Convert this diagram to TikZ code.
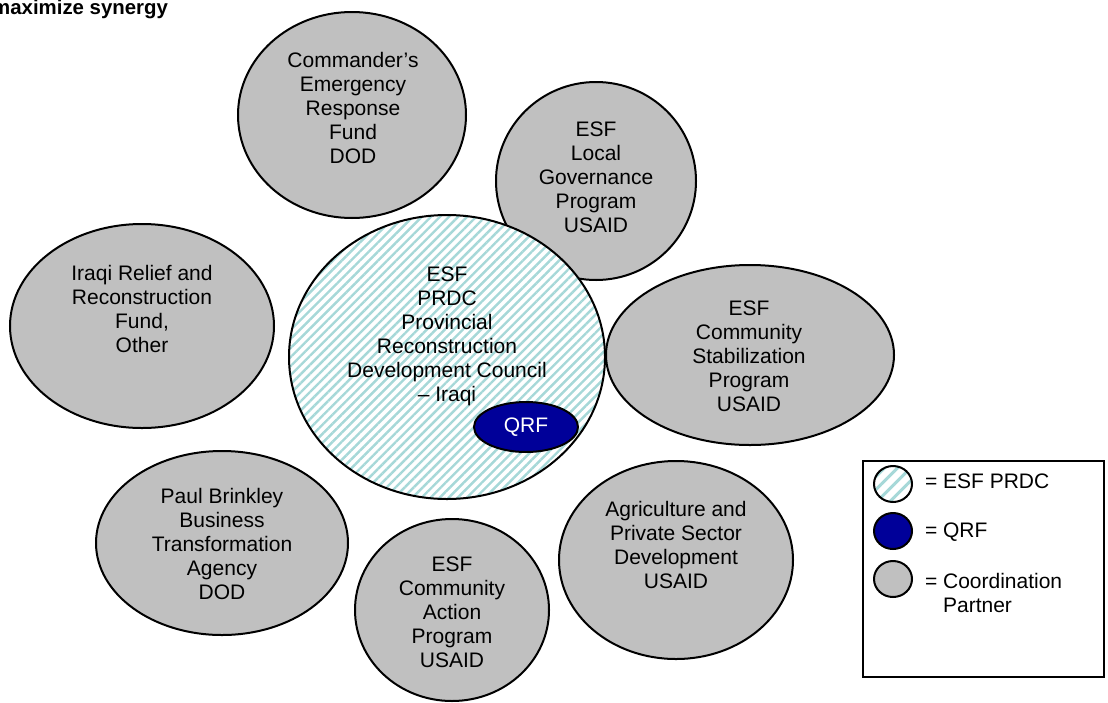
\documentclass[tikz,border=0pt]{standalone}
\usepackage{fontspec}
\setmainfont{Liberation Sans}
\usetikzlibrary{patterns.meta}
\definecolor{partnergray}{RGB}{192,192,192}
\definecolor{qrfblue}{RGB}{0,0,153}
\definecolor{prdcstripe}{RGB}{166,216,216}

\begin{document}
\begin{tikzpicture}[x=0.5pt,y=-0.5pt,line width=1pt,
  font=\fontsize{10.5}{12}\selectfont,
  partner/.style={draw,fill=partnergray},
  prdc/.style={draw,preaction={fill=white},
    pattern={Lines[angle=45,distance=3.2pt,line width=1.2pt]},pattern color=prdcstripe},
  qrf/.style={draw,fill=qrfblue},
  blurb/.style={align=center,inner sep=0pt}]
\useasboundingbox (0,0) rectangle (1108,702);

\node[anchor=base east,inner sep=0pt,font=\fontsize{10.2}{12}\selectfont\bfseries] (title) at (169,14) {maximize synergy};

% coordination partners
\draw[partner] (352,115) ellipse (114 and 103);
\node[blurb] (cerf) at (353,108) {Commander’s\\Emergency\\Response\\Fund\\DOD};

\draw[partner] (596,181) ellipse (100 and 99);
\node[blurb] (lgp) at (596,177) {ESF\\Local\\Governance\\Program\\USAID};

\draw[partner] (142,326) ellipse (132 and 102);
\node[blurb] (irrf) at (142,309) {Iraqi Relief and\\Reconstruction\\Fund,\\Other};

\draw[partner] (750,355) ellipse (144 and 90);
\node[blurb] (csp) at (749,356) {ESF\\Community\\Stabilization\\Program\\USAID};

\draw[partner] (222,543) ellipse (126 and 92);
\node[blurb] (tfbso) at (222,544) {Paul Brinkley\\Business\\Transformation\\Agency\\DOD};

\draw[partner] (452,610) ellipse (97 and 91);
\node[blurb] (cap) at (452,612) {ESF\\Community\\Action\\Program\\USAID};

\draw[partner] (676,560) ellipse (117 and 99);
\node[blurb] (agri) at (676,545) {Agriculture and\\Private Sector\\Development\\USAID};

% PRDC in the middle, QRF inside it
\draw[prdc] (447,357) ellipse (158 and 142);
\node[blurb] (prdc) at (447,336) {ESF\\PRDC\\Provincial\\Reconstruction\\Development Council\\– Iraqi};

\draw[qrf] (526,427) ellipse (52 and 25);
\node[text=white] (qrf) at (526,427) {QRF};

% legend
\draw (863,461) rectangle (1104,677);
\draw[prdc,pattern={Lines[angle=45,distance=4.6pt,line width=1.5pt]}] (893,484) ellipse (19 and 18);
\node[anchor=base west,inner sep=0pt] (keyprdc) at (924,488) {= ESF PRDC};
\draw[qrf] (893,531) ellipse (19 and 18);
\node[anchor=base west,inner sep=0pt] (keyqrf) at (924,537) {= QRF};
\draw[partner] (893,579) ellipse (19 and 18);
\node[anchor=north west,inner sep=0pt,align=left] (keypartner) at (924,572) {= Coordination\\\hphantom{= }Partner};
\end{tikzpicture}
\end{document}
